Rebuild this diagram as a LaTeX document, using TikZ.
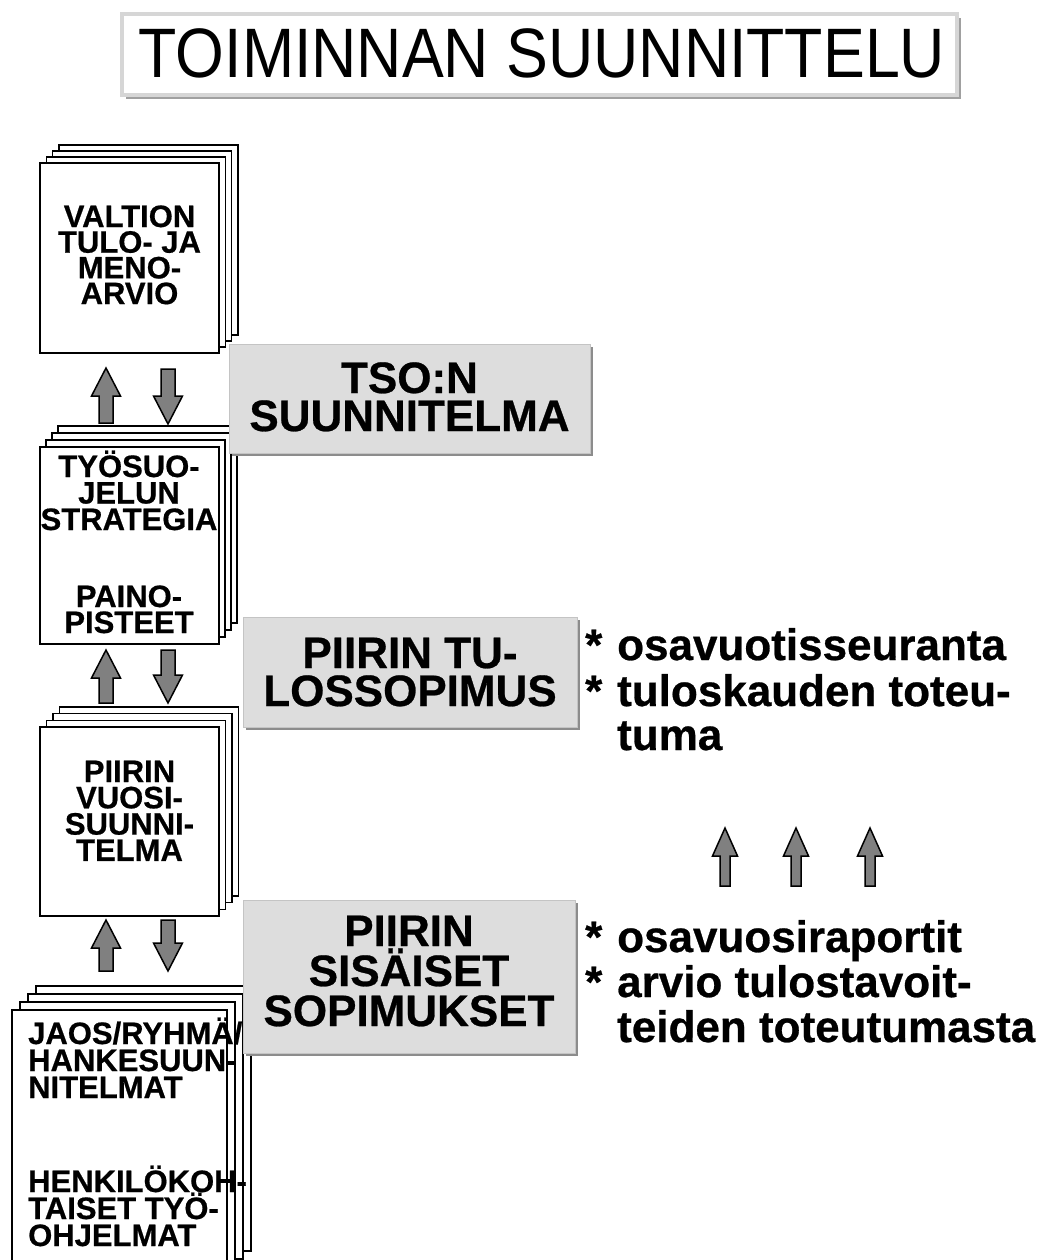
\documentclass[tikz,border=0pt]{standalone}
\usepackage{fontspec}
\setmainfont{Liberation Sans}[BoldFeatures={FakeBold=0.6}]
\usepackage{graphicx}
\definecolor{boxgrey}{HTML}{DDDDDD}
\definecolor{boxedge}{HTML}{C4C4C4}
\definecolor{shadowgrey}{HTML}{8C8C8C}
\definecolor{arrowgrey}{HTML}{808080}
\definecolor{titleedge}{HTML}{D6D6D6}
\definecolor{titleshadow}{HTML}{A0A0A0}
\tikzset{
  page/.style={draw=black, fill=white, line width=1.6pt},
  frontpage/.style={page, inner sep=0pt, outer sep=0pt, anchor=north west},
  stk/.style={font=\fontsize{31}{26}\selectfont\bfseries, inner sep=0pt},
  boxtxt/.style={font=\fontsize{44}{38}\selectfont\bfseries, inner sep=0pt, anchor=base},
  rtxt/.style={font=\fontsize{44}{45}\selectfont\bfseries, inner sep=0pt, anchor=base west},
  blockarrow/.style={fill=arrowgrey, draw=black, line width=1.5pt, line join=miter},
  greybox/.style={fill=boxgrey, draw=boxedge, line width=0.8pt, inner sep=0pt, outer sep=0pt, anchor=north west},
  shadowbox/.style={fill=shadowgrey},
}
% back pages: x1,y1,x2,y2 of front page, dx, dy
\newcommand\backpages[6]{%
  \foreach \k in {3,2,1}{%
    \draw[page] (#1+\k*#5,#2-\k*#6) rectangle (#3+\k*#5,#4-\k*#6);}}
% up arrow: cx, ytip, ybase, headw, shaftw, headlen
\newcommand\uparr[6]{%
  \draw[blockarrow] (#1,#2) -- (#1+#4/2,#2+#6) -- (#1+#5/2,#2+#6) -- (#1+#5/2,#3)
    -- (#1-#5/2,#3) -- (#1-#5/2,#2+#6) -- (#1-#4/2,#2+#6) -- cycle;}
% down arrow: cx, ytip(bottom), ybase(top), headw, shaftw, headlen
\newcommand\downarr[6]{%
  \draw[blockarrow] (#1,#2) -- (#1+#4/2,#2-#6) -- (#1+#5/2,#2-#6) -- (#1+#5/2,#3)
    -- (#1-#5/2,#3) -- (#1-#5/2,#2-#6) -- (#1-#4/2,#2-#6) -- cycle;}
\begin{document}
\begin{tikzpicture}[x=1pt,y=-1pt]
\useasboundingbox (0,0) rectangle (1037,1260);
\fill[white] (0,0) rectangle (1037,1260);

% ---------- title ----------
\fill[titleshadow] (126,18) rectangle (961,99);
\node[draw=titleedge, line width=4pt, fill=white, inner sep=0pt, outer sep=0pt,
      anchor=north west, minimum width=835, minimum height=81] (title) at (122,14) {};
\node[inner sep=0pt, anchor=base, font=\fontsize{70}{70}\selectfont] (titletext) at (542,78)
  {\scalebox{0.895}[1]{TOIMINNAN SUUNNITTELU}};

% ---------- stack 1 ----------
\backpages{40}{163}{219}{353}{6.3}{6}
\node[frontpage, minimum width=179, minimum height=190] (s1) at (40,163) {};
\foreach \t [count=\i from 0] in {VALTION,TULO- JA,MENO-,ARVIO}
  \node[stk, anchor=base] (s1t\i) at (129.5,227+25.7*\i) {\t};

% ---------- stack 2 ----------
\backpages{40}{447}{219}{644}{6}{7}
\node[frontpage, minimum width=179, minimum height=197] (s2) at (40,447) {};
\foreach \t [count=\i from 0] in {TYÖSUO-,JELUN,STRATEGIA}
  \node[stk, anchor=base] (s2t\i) at (129,477+26.5*\i) {\t};
\node[stk, anchor=base] (s2t3) at (129,607) {PAINO-};
\node[stk, anchor=base] (s2t4) at (129,633) {PISTEET};

% ---------- stack 3 ----------
\backpages{40}{727}{219}{916}{6.5}{6.7}
\node[frontpage, minimum width=179, minimum height=189] (s3) at (40,727) {};
\foreach \t [count=\i from 0] in {PIIRIN,VUOSI-,SUUNNI-,TELMA}
  \node[stk, anchor=base] (s3t\i) at (129.5,782+26.3*\i) {\t};

% ---------- stack 4 ----------
\backpages{12}{1010}{227}{1275}{8}{8}
\node[frontpage, minimum width=215, minimum height=265] (s4) at (12,1010) {};
\foreach \t [count=\i from 0] in {JAOS/RYHMÄ/,HANKESUUN-,NITELMAT}
  \node[stk, anchor=base west] (s4a\i) at (28,1044+27*\i) {\t};
\foreach \t [count=\i from 0] in {HENKILÖKOH-,TAISET TYÖ-,OHJELMAT}
  \node[stk, anchor=base west] (s4b\i) at (28,1192+27*\i) {\t};

% ---------- arrows between stacks ----------
\uparr{106}{368}{423}{29}{14}{28}
\downarr{168}{424}{369}{29}{14}{28}
\uparr{106}{650}{703}{29}{14}{28}
\downarr{168}{703}{650}{29}{14}{28}
\uparr{106}{920}{971}{29}{14}{28}
\downarr{168}{971}{920}{29}{14}{28}

% ---------- grey boxes ----------
\fill[shadowbox] (232,347) rectangle (593,456);
\node[greybox, minimum width=361, minimum height=109] (b1) at (229,344) {};
\node[boxtxt] (b1t0) at (409.5,393) {TSO:N};
\node[boxtxt] (b1t1) at (409.5,431) {SUUNNITELMA};

\fill[shadowbox] (246,620) rectangle (580,730);
\node[greybox, minimum width=334, minimum height=110] (b2) at (243,617) {};
\node[boxtxt] (b2t0) at (410,668) {PIIRIN TU-};
\node[boxtxt] (b2t1) at (410,706) {LOSSOPIMUS};

\fill[shadowbox] (246,903) rectangle (578,1056);
\node[greybox, minimum width=332, minimum height=153] (b3) at (243,900) {};
\node[boxtxt] (b3t0) at (409,946) {PIIRIN};
\node[boxtxt] (b3t1) at (409,986) {SISÄISET};
\node[boxtxt] (b3t2) at (409,1026) {SOPIMUKSET};

% ---------- right texts ----------
\node[rtxt] (r1s) at (585,660) {*};
\node[rtxt] (r1) at (617,660) {osavuotisseuranta};
\node[rtxt] (r2s) at (585,706) {*};
\node[rtxt] (r2) at (617,706) {tuloskauden toteu-};
\node[rtxt] (r3) at (617,750) {tuma};

\uparr{725}{828}{886}{25}{10}{28}
\uparr{796}{828}{886}{25}{10}{28}
\uparr{870}{828}{886}{25}{10}{28}

\node[rtxt] (r4s) at (585,952) {*};
\node[rtxt] (r4) at (617,952) {osavuosiraportit};
\node[rtxt] (r5s) at (585,997) {*};
\node[rtxt] (r5) at (617,997) {arvio tulostavoit-};
\node[rtxt] (r6) at (617,1042) {teiden toteutumasta};
\end{tikzpicture}
\end{document}
